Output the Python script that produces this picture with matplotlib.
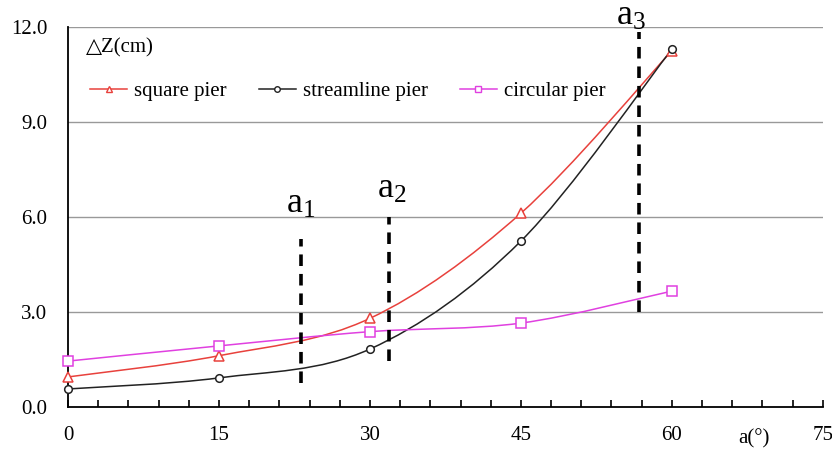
import numpy as np
import matplotlib
matplotlib.use("Agg")
import matplotlib.pyplot as plt
from matplotlib.path import Path
from matplotlib.patches import PathPatch
from matplotlib.lines import Line2D

plt.rcParams['font.family'] = ['Liberation Serif', 'DejaVu Serif']
plt.rcParams['mathtext.fontset'] = 'custom'
plt.rcParams['mathtext.rm'] = 'Liberation Serif'
plt.rcParams['mathtext.it'] = 'Liberation Serif'

angles = [0, 15, 30, 45, 60]
square = [0.95, 1.62, 2.80, 6.12, 11.25]
streamline = [0.57, 0.92, 1.83, 5.24, 11.30]
circular = [1.45, 1.93, 2.38, 2.65, 3.66]

series = [
    ("square pier", square, "#e8413c", "^"),
    ("streamline pier", streamline, "#222222", "o"),
    ("circular pier", circular, "#e040e0", "s"),
]

# critical angle markers
crit_x = [23.2, 31.9, 56.7]
crit_lo = [0.75, 1.45, 3.0]
crit_hi = [5.3, 6.0, 11.85]
crit_lab = [r"$\mathrm{a}_1$", r"$\mathrm{a}_2$", r"$\mathrm{a}_3$"]
crit_lab_x = [23.1, 32.2, 55.9]
crit_lab_y = [6.13, 6.6, 12.06]

fig = plt.figure(figsize=(8.32, 4.53), dpi=100)
ax = fig.add_axes([0.0817, 0.1015, 0.9073, 0.8389])
ax.set_xlim(0, 75)
ax.set_ylim(0, 12)


def smooth_path(x, y):
    x = np.asarray(x, float)
    y = np.asarray(y, float)
    n = len(x)
    verts = [(x[0], y[0])]
    codes = [Path.MOVETO]
    for i in range(n - 1):
        p0 = np.array([x[max(i - 1, 0)], y[max(i - 1, 0)]])
        p1 = np.array([x[i], y[i]])
        p2 = np.array([x[i + 1], y[i + 1]])
        p3 = np.array([x[min(i + 2, n - 1)], y[min(i + 2, n - 1)]])
        c1 = p1 + (p2 - p0) / 6.0
        c2 = p2 - (p3 - p1) / 6.0
        verts += [tuple(c1), tuple(c2), tuple(p2)]
        codes += [Path.CURVE4] * 3
    return Path(verts, codes)


for yv in [3, 6, 9, 12]:
    ax.axhline(yv, color="#999999", lw=1.0, zorder=1)

handles = []
for name, vals, col, mk in series:
    patch = PathPatch(smooth_path(angles, vals), facecolor="none",
                      edgecolor=col, lw=1.1, zorder=3)
    ax.add_patch(patch)
    ax.plot(angles, vals, ls="none", marker=mk, ms=6.5 if mk != "o" else 5.5,
            mfc="white", mec=col, mew=1.1, zorder=4, clip_on=False)
    handles.append(Line2D([], [], color=col, lw=1.1, marker=mk,
                          ms=5 if mk != "o" else 4, mfc="white", mec=col))

for xv, lo, hi in zip(crit_x, crit_lo, crit_hi):
    ax.plot([xv, xv], [lo, hi], color="black", lw=2.6, ls=(0, (3.2, 2.2)),
            zorder=5, clip_on=False)
for lx, ly, lab in zip(crit_lab_x, crit_lab_y, crit_lab):
    ax.text(lx, ly, lab, ha="center", va="baseline", fontsize=26, zorder=6)

for s in ["top", "right"]:
    ax.spines[s].set_visible(False)
ax.spines["left"].set_linewidth(1.3)
ax.spines["bottom"].set_linewidth(1.3)

ax.set_xticks([0, 15, 30, 45, 60, 75])
ax.set_xticklabels(["0", "15", "30", "45", "60", "75"], fontsize=15)
ax.set_xticks(np.arange(0, 76, 3), minor=True)
ax.tick_params(axis="x", which="both", direction="in", length=5, width=1.2, pad=14)
ax.set_yticks([0, 3, 6, 9, 12])
ax.set_yticklabels(["0.0", "3.0", "6.0", "9.0", "12.0"], fontsize=15)
ax.tick_params(axis="y", length=0, pad=15)

ax.text(1.8, 11.35, "△Z(cm)", fontsize=15, ha="left", va="center")
ax.text(68.2, -1.0, "a(°)", fontsize=15, ha="center", va="center")

leg = ax.legend(handles, [s[0] for s in series], loc="upper left",
                bbox_to_anchor=(0.005, 0.905), ncol=3, frameon=False,
                fontsize=15, handlelength=1.75, columnspacing=1.55,
                handletextpad=0.35)

fig.savefig("out.png", dpi=100)
